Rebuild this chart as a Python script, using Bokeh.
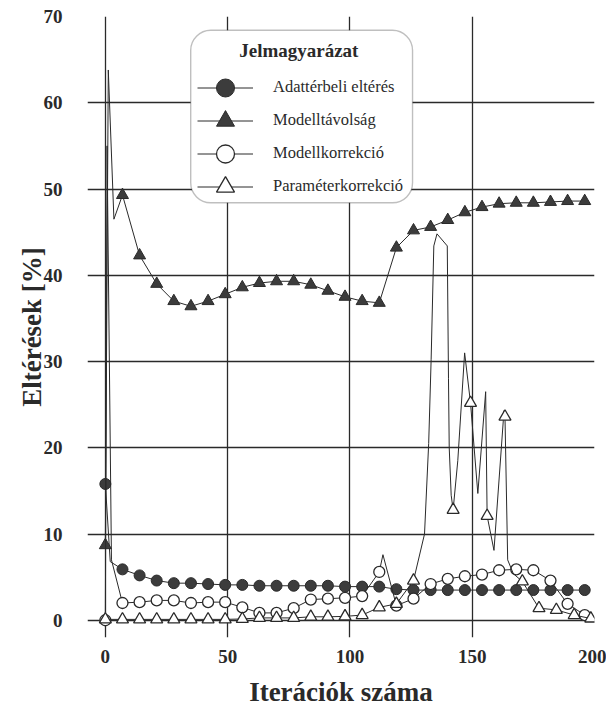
from bokeh.plotting import figure
from bokeh.models import Range1d, FixedTicker, Legend, LegendItem, BoxAnnotation, Label
from bokeh.embed import file_html
from bokeh.resources import INLINE

# ---- data ----
iters = [0, 7, 14, 21, 28, 35, 42, 49, 56, 63, 70, 77, 84, 91, 98,
         105, 112, 119, 126, 133, 140, 147, 154, 161, 168, 175, 182, 189, 196]

adatter = [15.8, 5.9, 5.2, 4.6, 4.3, 4.3, 4.2, 4.1, 4.1, 4.0, 4.0, 4.0, 4.0, 4.0, 3.9,
           3.9, 3.9, 3.6, 3.5, 3.5, 3.5, 3.5, 3.5, 3.5, 3.5, 3.5, 3.5, 3.5, 3.5]
adatter_extra_x = [2.0]
adatter_extra_y = [6.8]

modelltav = [8.7, 49.3, 42.3, 39.0, 37.0, 36.4, 37.0, 37.8, 38.6, 39.1, 39.3, 39.3, 38.9, 38.2, 37.5,
             37.0, 36.8, 43.2, 45.2, 45.6, 46.4, 47.3, 47.9, 48.3, 48.4, 48.4, 48.5, 48.6, 48.6]
modelltav_extra_x = [1.2, 3.5]
modelltav_extra_y = [63.8, 46.5]

modellkorr = [0.0, 2.0, 2.1, 2.3, 2.3, 2.0, 2.1, 2.1, 1.5, 0.85, 0.85, 1.4, 2.4, 2.5, 2.6,
              2.8, 5.6, 1.7, 2.5, 4.2, 4.8, 5.1, 5.3, 5.8, 5.9, 5.8, 4.6, 1.9, 0.6]
modellkorr_extra_x = [0.7, 2.5, 113.5]
modellkorr_extra_y = [55.0, 7.0, 7.6]

param_x = [0, 7, 14, 21, 28, 35, 42, 49, 56, 63, 70, 77, 84, 91, 98,
           105, 112, 119, 126, 142.2, 149.3, 156.1, 163.4, 170.5, 177.3, 184.4, 191.7, 198.5]
param_y = [0.1, 0.1, 0.1, 0.1, 0.1, 0.1, 0.1, 0.1, 0.15, 0.27, 0.27, 0.27, 0.4, 0.4, 0.45,
           0.6, 1.5, 1.9, 4.6, 12.8, 25.2, 12.1, 23.6, 4.5, 1.4, 1.2, 0.6, 0.2]
param_extra_x = [130.5, 132.2, 133.2, 134.3, 135.6, 139.8, 140.3, 140.6, 141.4, 144.1, 146.9,
                 152.3, 155.5, 158.9, 163.0, 164.5, 166.8]
param_extra_y = [10.0, 20.5, 30.2, 43.4, 44.8, 43.4, 28.0, 20.0, 14.5, 18.5, 31.0,
                 14.7, 26.5, 8.1, 24.3, 7.0, 5.4]

x_ticks = [0, 50, 100, 150, 200]
y_ticks = [0, 10, 20, 30, 40, 50, 60, 70]

names = ["Adattérbeli eltérés", "Modelltávolság", "Modellkorrekció", "Paraméterkorrekció"]


def merged(xs, ys, ex, ey):
    pts = sorted(list(zip(xs, ys)) + list(zip(ex, ey)))
    return [p[0] for p in pts], [p[1] for p in pts]


SERIF = "Liberation Serif"
INK = "#2a2a2a"

W, H = 606, 712
p = figure(width=W, height=H, output_backend="svg", toolbar_location=None,
           x_range=Range1d(-7.3, 200), y_range=Range1d(-2.0, 70),
           min_border_left=87, min_border_right=12, min_border_top=16, min_border_bottom=75)
p.outline_line_color = None
p.background_fill_color = "white"

for ax in (p.xaxis[0], p.yaxis[0]):
    ax.axis_line_color = None
    ax.major_tick_line_color = None
    ax.minor_tick_line_color = None
    ax.major_label_text_font = SERIF
    ax.major_label_text_font_style = "bold"
    ax.major_label_text_font_size = "19px"
    ax.major_label_text_color = INK
    ax.axis_label_text_font = SERIF
    ax.axis_label_text_font_style = "bold"
    ax.axis_label_text_color = INK
    ax.axis_label_text_font_size = "27px"

p.xaxis.ticker = FixedTicker(ticks=x_ticks)
p.yaxis.ticker = FixedTicker(ticks=y_ticks)
p.xgrid.ticker = FixedTicker(ticks=x_ticks)
p.ygrid.ticker = FixedTicker(ticks=y_ticks)
p.xaxis.axis_label = "Iterációk száma"
p.yaxis.axis_label = "Eltérések [%]"
p.xaxis.major_label_standoff = 6
p.xaxis.axis_label_standoff = 11
p.yaxis.major_label_standoff = 19
try:
    p.yaxis.axis_label_standoff = -6
except Exception:
    p.yaxis.axis_label_standoff = 0

for g in (p.xgrid[0], p.ygrid[0]):
    g.grid_line_color = INK
    g.grid_line_width = 1.3
    g.grid_line_alpha = 1.0

LINE_W = 1.0
MS = 11

items = []

lx, ly = merged(iters, adatter, adatter_extra_x, adatter_extra_y)
l1 = p.line(lx, ly, line_color=INK, line_width=LINE_W)
s1 = p.scatter(iters, adatter, marker="circle", size=MS, fill_color="#3c3c3c", line_color=INK)
items.append(LegendItem(label=names[0], renderers=[l1, s1]))

lx, ly = merged(iters, modelltav, modelltav_extra_x, modelltav_extra_y)
l2 = p.line(lx, ly, line_color=INK, line_width=LINE_W)
s2 = p.scatter(iters, modelltav, marker="triangle", size=MS + 1, fill_color="#3c3c3c", line_color=INK)
items.append(LegendItem(label=names[1], renderers=[l2, s2]))

lx, ly = merged(iters, modellkorr, modellkorr_extra_x, modellkorr_extra_y)
l3 = p.line(lx, ly, line_color=INK, line_width=LINE_W)
s3 = p.scatter(iters, modellkorr, marker="circle", size=MS, fill_color="white", line_color=INK, line_width=1.3)
items.append(LegendItem(label=names[2], renderers=[l3, s3]))

lx, ly = merged(param_x, param_y, param_extra_x, param_extra_y)
l4 = p.line(lx, ly, line_color=INK, line_width=LINE_W)
s4 = p.scatter(param_x, param_y, marker="triangle", size=MS + 1, fill_color="white", line_color=INK, line_width=1.3)
items.append(LegendItem(label=names[3], renderers=[l4, s4]))

# legend frame (rounded box), in data units of the plot
box = BoxAnnotation(left=34.9, right=125.6, top=68.4, bottom=48.4,
                    fill_color="white", fill_alpha=1.0, line_color=INK, line_width=1.4)
try:
    box.border_radius = 20
except Exception:
    pass
p.add_layout(box)

# one legend per row so that the legend markers can be drawn large
FRAME_BOTTOM = 637          # page px of the frame's bottom edge
ROW_CENTERS = [87, 120, 153, 186]
GH = 45
for item, cy in zip(items, ROW_CENTERS):
    lg = Legend(items=[item], location=(110, FRAME_BOTTOM - (cy + GH / 2)), orientation="vertical")
    lg.background_fill_alpha = 0
    lg.border_line_color = None
    lg.padding = 0
    lg.margin = 0
    lg.glyph_width = 56
    lg.glyph_height = GH
    lg.label_height = 20
    lg.spacing = 0
    lg.label_standoff = 20
    lg.label_text_font = SERIF
    lg.label_text_font_size = "16.5px"
    lg.label_text_color = INK
    p.add_layout(lg)

title = Label(x=79.1, y=66.05, text="Jelmagyarázat", text_font=SERIF, text_font_style="bold",
              text_font_size="19px", text_align="center", text_baseline="middle", text_color=INK)
p.add_layout(title)

open("out.html", "w").write(file_html(p, INLINE))
